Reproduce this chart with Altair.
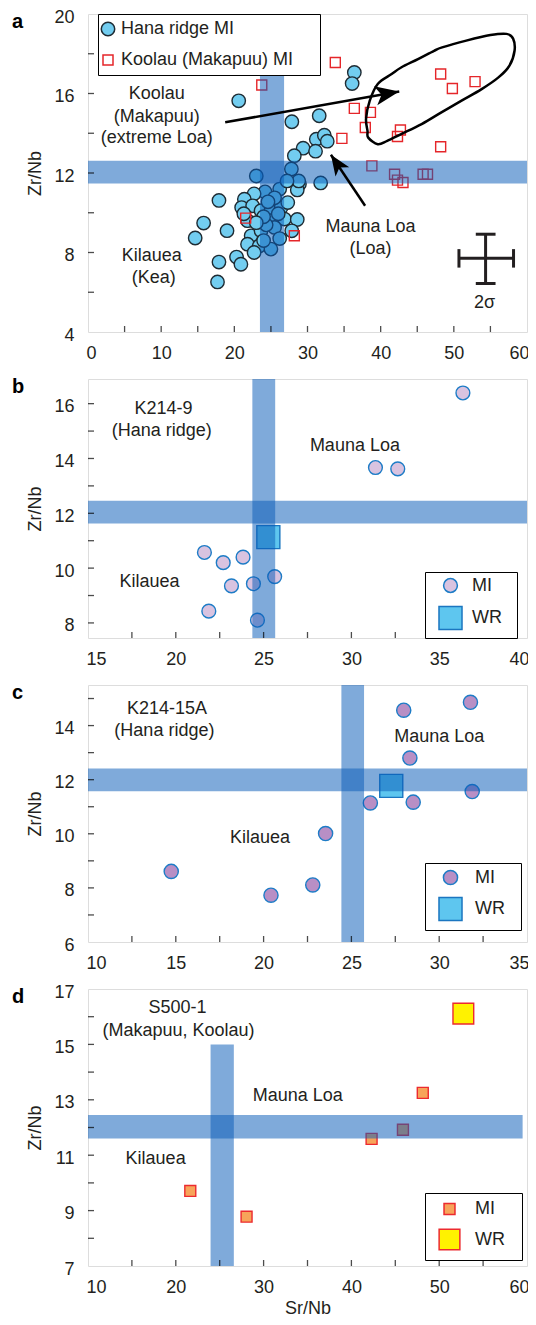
import altair as alt
import pandas as pd

FONT = "Liberation Sans"
TXT = "#231f20"
BAND = "#0a5cb8"
BAND_OP = 0.52
FS = 18
NB = "\u00a0"
ZW = "\u200b"

# ---------------- panel a ----------------
hana_x = [20.6, 36.4, 36.1, 27.86, 31.6, 31.2, 32.3, 32.7, 29.4, 31.1,
          28.2, 27.8, 23.0, 31.8, 28.9, 28.6, 26.2, 24.2, 22.7, 28.8, 27.2,
          17.9, 21.37, 21.0, 22.5, 23.65, 25.0, 26.4, 27.3, 15.8, 14.65,
          19.0, 17.9, 17.7, 21.8, 25.0, 26.85, 28.6, 22.3, 23.65, 25.5,
          27.85, 21.8, 23.4, 25.0, 22.7, 20.3, 20.9, 24.35, 21.3, 25.5,
          24.6, 26.0, 24.0, 23.0, 26.2, 24.0]
hana_y = [15.63, 17.06, 16.5, 14.58, 14.88, 13.7, 13.9, 13.6, 13.25, 13.1,
          12.87, 12.2, 11.85, 11.5, 11.45, 11.15, 11.19, 11.05, 10.95, 11.6, 11.6,
          10.62, 10.68, 10.26, 10.35, 10.1, 10.1, 10.26, 10.51, 9.48, 8.73,
          9.1, 7.52, 6.52, 9.6, 9.6, 9.68, 9.66, 8.84, 9.09, 9.26,
          9.09, 8.42, 8.33, 8.17, 8.0, 7.77, 7.41, 9.39, 9.95, 10.75,
          10.55, 9.95, 9.8, 9.5, 8.7, 8.6]
koolau_x = [23.75, 33.8, 48.2, 49.8, 52.9, 36.4, 38.6, 37.9, 34.7, 42.7,
            42.3, 48.2, 38.8, 41.9, 42.3, 43.05, 45.8, 46.4, 21.55, 28.2]
koolau_y = [16.43, 17.56, 16.98, 16.25, 16.6, 15.25, 15.05, 14.29, 13.74, 14.16,
            13.84, 13.32, 12.36, 11.94, 11.64, 11.52, 11.94, 11.94, 9.73, 8.84]
contour_x = [38.3, 39.6, 40.9, 42.8, 45.6, 48.3, 51.0, 53.8, 56.1, 57.6, 58.3, 58.1,
             57.2, 55.0, 51.7, 48.4, 47.3, 45.1, 42.8, 41.5, 39.6, 38.5, 38.0, 38.2]
contour_y = [13.78, 13.45, 13.62, 13.96, 14.46, 15.05, 15.63, 16.22, 16.81, 17.40, 18.15, 18.76,
             19.0, 18.94, 18.66, 18.32, 18.15, 17.73, 17.31, 16.98, 16.48, 15.63, 14.73, 14.12]
arrow_x = [18.75, 37.87]
arrow_y = [14.55, 10.35]
arrow_x2 = [42.54, 33.2]
arrow_y2 = [16.1, 12.92]
arrow_angle = [80.0, 326.2]
arrow_size = [2304, 1700]
err_x = [54.34, 50.7, 53.0, 53.0, 50.7, 58.16]
err_x2 = [54.34, 58.16, 55.7, 55.7, 50.7, 58.16]
err_y = [6.44, 7.71, 8.92, 6.44, 7.24, 7.24]
err_y2 = [8.92, 7.71, 8.92, 6.44, 8.17, 8.17]
a_text = ["Koolau", "(Makapuu)", "(extreme Loa)", "Kilauea", "(Kea)", "Mauna Loa", "(Loa)", "2σ"]
a_text_x = [9.4, 9.4, 9.4, 8.7, 9.0, 38.6, 38.6, 54.2]
a_text_y = [15.97, 14.83, 13.76, 7.83, 6.74, 9.26, 8.17, 5.48]
a_band_x = [23.5, 0]
a_band_x2 = [26.8, 60]
a_band_y = [4, 11.47]
a_band_y2 = [20, 12.62]
a_xt = [5, 10, 15, 20, 25, 30, 35, 40, 45, 50, 55]
a_yt = [6, 8, 10, 12, 14, 16, 18]
a_xlab = [0, 10, 20, 30, 40, 50, 60]
a_ylab = [4, 8, 12, 16, 20]

# ---------------- panel b ----------------
b_mi_x = [36.35, 31.37, 32.64, 21.63, 22.70, 23.83, 23.17, 24.42, 25.63, 21.88, 24.65]
b_mi_y = [16.39, 13.67, 13.62, 10.57, 10.2, 10.40, 9.35, 9.43, 9.69, 8.43, 8.1]
b_wr_x = [25.27]
b_wr_y = [11.13]
b_text = ["K214-9", "(Hana ridge)", "Mauna Loa", "Kilauea"]
b_text_x = [19.3, 19.2, 30.2, 18.5]
b_text_y = [15.8, 14.99, 14.46, 9.48]
b_band_x = [24.36, 15]
b_band_x2 = [25.66, 40]
b_band_y = [7.45, 11.63]
b_band_y2 = [16.9, 12.46]
b_xt = [17.5, 20, 22.5, 25, 27.5, 30, 32.5, 35, 37.5]
b_yt = [8, 9, 10, 11, 12, 13, 14, 15, 16]
b_xlab = [15, 20, 25, 30, 35, 40]
b_ylab = [8, 10, 12, 14, 16]

# ---------------- panel c ----------------
c_mi_x = [27.98, 31.78, 28.33, 31.88, 26.08, 28.52, 23.53, 14.74, 20.42, 22.80]
c_mi_y = [14.57, 14.86, 12.80, 11.56, 11.14, 11.17, 10.01, 8.61, 7.73, 8.11]
c_wr_x = [27.27]
c_wr_y = [11.77]
c_text = ["K214-15A", "(Hana ridge)", "Mauna Loa", "Kilauea"]
c_text_x = [14.5, 14.35, 30.0, 19.8]
c_text_y = [14.62, 13.79, 13.58, 9.85]
c_band_x = [24.43, 10]
c_band_x2 = [25.72, 35]
c_band_y = [6, 11.57]
c_band_y2 = [15.5, 12.41]
c_xt = [12.5, 15, 17.5, 20, 22.5, 25, 27.5, 30, 32.5]
c_yt = [7, 8, 9, 10, 11, 12, 13, 14, 15]
c_xlab = [10, 15, 20, 25, 30, 35]
c_ylab = [6, 8, 10, 12, 14]

# ---------------- panel d ----------------
d_mi_x = [21.65, 28.06, 42.30, 45.87, 48.13]
d_mi_y = [9.71, 8.78, 11.59, 11.92, 13.25]
d_wr_x = [52.75]
d_wr_y = [16.11]
d_text = ["S500-1", "(Makapuu, Koolau)", "Mauna Loa", "Kilauea"]
d_text_x = [20.2, 20.3, 33.9, 17.7]
d_text_y = [16.3, 15.49, 13.14, 10.88]
d_band_x = [23.96, 10]
d_band_x2 = [26.61, 59.5]
d_band_y = [7, 11.6]
d_band_y2 = [15.0, 12.45]
d_xt = [15, 20, 25, 30, 35, 40, 45, 50, 55]
d_yt = [8, 9, 10, 11, 12, 13, 14, 15, 16]
d_xlab = [10, 20, 30, 40, 50, 60]
d_ylab = [7, 9, 11, 13, 15, 17]

W = 439


def axis(vals, title=None, orient="x"):
    kw = dict(values=vals, ticks=False, tickSize=0, domain=False, grid=False,
              labelFont=FONT, labelFontSize=FS, labelColor=TXT,
              labelOverlap=False, titleFont=FONT, titleFontSize=FS, titleFontWeight="normal",
              titleColor=TXT)
    if orient == "x":
        kw.update(labelPadding=12, titlePadding=3, labelFlush=True, labelFlushOffset=2)
    else:
        kw.update(labelPadding=14, titlePadding=9, labelFlush=False, labelOffset=3)
    kw["title"] = title
    return alt.Axis(**kw)


def panel(letter, H, xdom, ydom, pts, series, fills, strokes, shapes, sizes,
          texts, bands, xt, yt, xlab, ylab, legend_xy, legend_pad, xtitle=None,
          extra=None, n_pad=0):
    xs = alt.Scale(domain=xdom, nice=False, zero=False)
    ys = alt.Scale(domain=ydom, nice=False, zero=False)
    ax = axis(xlab, xtitle, "x")
    ay = axis(ylab, "Zr/Nb", "y")

    def X(f):
        return alt.X(f, scale=xs, axis=ax)

    def Y(f):
        return alt.Y(f, scale=ys, axis=ay)

    leg = alt.Legend(orient="none", legendX=legend_xy[0], legendY=legend_xy[1], title=None,
                     labelFont=FONT, labelFontSize=FS, labelColor=TXT, labelLimit=500,
                     padding=legend_pad[0], rowPadding=legend_pad[1],
                     symbolOffset=legend_pad[2], labelOffset=legend_pad[3],
                     strokeColor="black", fillColor="white", symbolStrokeWidth=1.5,
                     labelExpr="datum.label + '" + NB * n_pad + ZW + "'")
    scat = alt.Chart(pts).mark_point(filled=True, strokeWidth=1.4, opacity=1).encode(
        x=X("x:Q"), y=Y("y:Q"),
        fill=alt.Fill("s:N", scale=alt.Scale(domain=series, range=fills), legend=leg),
        stroke=alt.Stroke("s:N", scale=alt.Scale(domain=series, range=strokes), legend=leg),
        shape=alt.Shape("s:N", scale=alt.Scale(domain=series, range=shapes), legend=leg),
        size=alt.Size("s:N", scale=alt.Scale(type="point", domain=series, range=sizes, padding=0), legend=leg),
        order=alt.Order("o:Q"),
    )
    band = alt.Chart(bands).mark_rect(color=BAND, opacity=BAND_OP, clip=True).encode(
        x=X("x:Q"), x2="x2:Q", y=Y("y:Q"), y2="y2:Q")
    txt = alt.Chart(texts).mark_text(font=FONT, fontSize=FS, color=TXT, align="center",
                                     baseline="middle").encode(x=X("x:Q"), y=Y("y:Q"), text="t:N")
    xtk = alt.Chart(pd.DataFrame({"x": xt})).mark_tick(color="black", thickness=1.3, size=6,
                                                      orient="vertical").encode(
        x=X("x:Q"), y=alt.value(H - 3))
    ytk = alt.Chart(pd.DataFrame({"y": yt})).mark_tick(color="black", thickness=1.3, size=6,
                                                      orient="horizontal").encode(
        y=Y("y:Q"), x=alt.value(3))
    let = alt.Chart(pd.DataFrame({"t": [letter]})).mark_text(
        font=FONT, fontSize=20, fontWeight="bold", color="black", align="left",
        baseline="alphabetic").encode(text="t:N", x=alt.value(-76), y=alt.value(14))
    layers = [scat, band]
    if extra:
        layers += extra(X, Y)
    layers += [txt, xtk, ytk, let]
    return alt.layer(*layers).properties(width=W, height=H).resolve_scale(
        fill="independent", stroke="independent", shape="independent", size="independent")


def df_pts(groups):
    rows = []
    o = 0
    for name, xs_, ys_ in groups:
        for x, y in zip(xs_, ys_):
            rows.append({"x": x, "y": y, "s": name, "o": o})
            o += 1
    return pd.DataFrame(rows)


def df_txt(t, x, y):
    return pd.DataFrame({"t": t, "x": x, "y": y})


def df_band(x, x2, y, y2):
    return pd.DataFrame({"x": x, "x2": x2, "y": y, "y2": y2})


def extra_a(X, Y):
    cont = pd.DataFrame({"x": contour_x, "y": contour_y, "o": list(range(len(contour_x)))})
    line = alt.Chart(cont).mark_line(color="black", strokeWidth=2.5, interpolate="cardinal-closed").encode(
        x=X("x:Q"), y=Y("y:Q"), order="o:Q")
    arr = pd.DataFrame({"x": arrow_x, "y": arrow_y, "x2": arrow_x2, "y2": arrow_y2})
    shaft = alt.Chart(arr).mark_rule(color="black", strokeWidth=2.5).encode(
        x=X("x:Q"), y=Y("y:Q"), x2="x2:Q", y2="y2:Q")
    head_df = pd.DataFrame({"x": arrow_x2, "y": arrow_y2, "ang": arrow_angle, "sz": arrow_size})
    head = alt.Chart(head_df).mark_point(shape="M0,0L0.4,1L0,0.75L-0.4,1Z", filled=True,
                                         color="black", opacity=1).encode(
        x=X("x:Q"), y=Y("y:Q"),
        angle=alt.Angle("ang:Q", scale=None), size=alt.Size("sz:Q", scale=None, legend=None))
    err = pd.DataFrame({"x": err_x, "x2": err_x2, "y": err_y, "y2": err_y2})
    cross = alt.Chart(err).mark_rule(color="#231f20", strokeWidth=3).encode(
        x=X("x:Q"), y=Y("y:Q"), x2="x2:Q", y2="y2:Q")
    return [line, shaft, head, cross]


pa = panel("a", 318, [0, 60], [4, 20],
           df_pts([("Hana ridge MI", hana_x, hana_y), ("Koolau (Makapuu) MI", koolau_x, koolau_y)]),
           ["Hana ridge MI", "Koolau (Makapuu) MI"], ["#72cdf0", "transparent"],
           ["#1e2b33", "#e5262a"], ["circle", "square"], [180, 100],
           df_txt(a_text, a_text_x, a_text_y), df_band(a_band_x, a_band_x2, a_band_y, a_band_y2),
           a_xt, a_yt, a_xlab, a_ylab, (10, 0), (6, 12, -5, 4), extra=extra_a, n_pad=4)

pb = panel("b", 259, [15, 40], [7.45, 16.9],
           df_pts([("MI", b_mi_x, b_mi_y), ("WR", b_wr_x, b_wr_y)]),
           ["MI", "WR"], ["#d9c3e0", "#5ec6ef"], ["#1d7cc6", "#1b76c0"],
           ["circle", "square"], [190, 530],
           df_txt(b_text, b_text_x, b_text_y), df_band(b_band_x, b_band_x2, b_band_y, b_band_y2),
           b_xt, b_yt, b_xlab, b_ylab, (337, 193), (4.5, 7, 8.5, 9), n_pad=2)

pc = panel("c", 257, [10, 35], [6, 15.5],
           df_pts([("MI", c_mi_x, c_mi_y), ("WR", c_wr_x, c_wr_y)]),
           ["MI", "WR"], ["#b88fc5", "#5ec6ef"], ["#1d7cc6", "#1b76c0"],
           ["circle", "square"], [200, 530],
           df_txt(c_text, c_text_x, c_text_y), df_band(c_band_x, c_band_x2, c_band_y, c_band_y2),
           c_xt, c_yt, c_xlab, c_ylab, (337, 178), (5.5, 5, 7.5, 12), n_pad=2)

pd_ = panel("d", 277, [10, 60], [7, 17],
            df_pts([("MI", d_mi_x, d_mi_y), ("WR", d_wr_x, d_wr_y)]),
            ["MI", "WR"], ["#f7a45a", "#fff200"], ["#ec2a2f", "#ec2a2f"],
            ["square", "square"], [120, 430],
            df_txt(d_text, d_text_x, d_text_y), df_band(d_band_x, d_band_x2, d_band_y, d_band_y2),
            d_xt, d_yt, d_xlab, d_ylab, (337, 204), (7, 8, 6, 14), xtitle="Sr/Nb", n_pad=2)

chart = alt.vconcat(pa, pb, pc, pd_, spacing=47, bounds="flush").resolve_scale(
    fill="independent", stroke="independent", shape="independent", size="independent",
    x="independent", y="independent"
).properties(
    padding={"top": -1, "left": 3, "right": -2, "bottom": -1}
).configure_view(stroke="black", strokeWidth=1.8).configure(background="white")

chart.save("out.html", embed_options={"renderer": "svg", "actions": False})
